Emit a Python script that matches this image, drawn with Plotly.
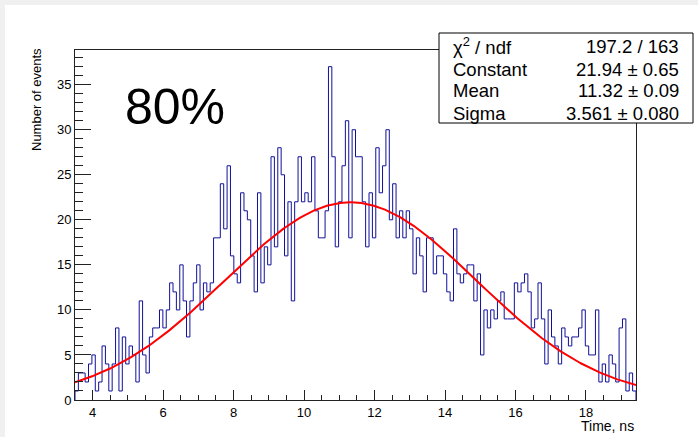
import numpy as np
import plotly.graph_objects as go

# ---------------- data ----------------
x_min = 3.5
x_max = 19.42
counts = [
    1, 3, 3, 2, 4, 5, 1, 2, 6, 4, 1, 4, 8, 1, 7, 4, 6, 5, 2, 11, 5, 3, 7, 8, 8, 10, 8, 10,
    13, 12, 10, 15, 11, 7, 11, 13, 15, 10, 13, 12, 13, 18, 18, 24, 19, 26, 16, 14, 13, 23, 21, 20, 16, 12, 23,
    13, 17, 15, 27, 17, 28, 25, 16, 22, 11, 22, 27, 22, 23, 22, 27, 21, 18, 18, 21, 37, 27, 17, 22, 26, 31, 18, 30, 27,
    27, 22, 17, 23, 18, 28, 23, 26, 30, 20, 24, 18, 21, 18, 21, 19, 14, 18, 16, 12, 18, 18, 14, 16, 16, 14, 12, 11, 19,
    14, 13, 14, 15, 15, 11, 14, 5, 10, 8, 10, 9, 11, 12, 9, 9, 9, 13, 12, 13, 14, 12, 8, 9, 13, 9, 4, 10,
    7, 6, 4, 8, 7, 6, 7, 7, 8, 10, 6, 5, 5, 10, 2, 4, 2, 5, 4, 2, 8, 9, 1, 3, 1,
]
fit_constant = 21.94
fit_mean = 11.32
fit_sigma = 3.561
stat_labels = ["χ<sup>2</sup> / ndf", "Constant", "Mean", "Sigma"]
stat_values = ["197.2 / 163", "21.94 ± 0.65", "11.32 ± 0.09", "3.561 ± 0.080"]
big_label = "80%"
x_title = "Time, ns"
y_title = "Number of events"

# ---------------- build ----------------
n = len(counts)
edges = np.linspace(x_min, x_max, n + 1)
hx = [edges[0]] + list(edges) + [edges[-1]]
hy = [0] + list(counts) + [counts[-1], 0]

fx = np.linspace(x_min, x_max, 600)
fy = fit_constant * np.exp(-0.5 * ((fx - fit_mean) / fit_sigma) ** 2)

W, H = 698, 437
L, R, T, B = 75, 62, 50, 37
pw = W - L - R
ph = H - T - B


def px(p):
    return (p - L) / pw


def py(p):
    return (H - B - p) / ph


FONT = "Liberation Sans, Arial, Helvetica, sans-serif"

fig = go.Figure()
fig.add_trace(go.Scatter(x=hx, y=hy, mode="lines", line_shape="hv",
                         line=dict(color="#10109c", width=1), hoverinfo="skip"))
fig.add_trace(go.Scatter(x=fx, y=fy, mode="lines",
                         line=dict(color="#ff0000", width=2), hoverinfo="skip"))

shapes = [
    dict(type="rect", xref="paper", yref="paper", x0=px(5), x1=px(W + 5), y0=py(H + 5), y1=py(5),
         fillcolor="white", line=dict(width=0), layer="below"),
    dict(type="rect", xref="paper", yref="paper", x0=px(439), x1=px(693), y0=py(123), y1=py(33),
         fillcolor="white", line=dict(color="black", width=1), layer="above"),
]

annotations = []
row_y = [46, 69, 91, 113]
for lab, val, yy in zip(stat_labels, stat_values, row_y):
    annotations.append(dict(x=px(451), y=py(yy), xref="paper", yref="paper", text=lab,
                            showarrow=False, xanchor="left", yanchor="middle",
                            font=dict(family=FONT, size=18.5, color="black")))
    annotations.append(dict(x=px(681), y=py(yy), xref="paper", yref="paper", text=val,
                            showarrow=False, xanchor="right", yanchor="middle",
                            font=dict(family=FONT, size=18.5, color="black")))
annotations.append(dict(x=px(175), y=py(107), xref="paper", yref="paper", text=big_label,
                        showarrow=False, xanchor="center", yanchor="middle",
                        font=dict(family=FONT, size=50, color="black")))
annotations.append(dict(x=px(636), y=py(426), xref="paper", yref="paper", text=x_title,
                        showarrow=False, xanchor="right", yanchor="middle",
                        font=dict(family=FONT, size=14, color="black")))
annotations.append(dict(x=px(36), y=py(100), xref="paper", yref="paper", text=y_title,
                        showarrow=False, xanchor="center", yanchor="middle", textangle=-90,
                        font=dict(family=FONT, size=13, color="black")))

fig.update_layout(
    width=W, height=H,
    margin=dict(l=L, r=R, t=T, b=B, pad=0),
    paper_bgcolor="#f0f0f0", plot_bgcolor="white",
    showlegend=False,
    shapes=shapes, annotations=annotations,
    font=dict(family=FONT, size=13, color="black"),
    xaxis=dict(range=[x_min, x_max], tick0=4, dtick=2, ticks="inside", ticklen=10,
               tickcolor="#222", showline=True, linecolor="#222", linewidth=1, mirror=True,
               showgrid=False, zeroline=False, tickfont=dict(size=13, family=FONT),
               ticklabelstandoff=0,
               minor=dict(dtick=0.5, ticks="inside", ticklen=5, tickcolor="#222", showgrid=False)),
    yaxis=dict(range=[0, 38.85], tick0=0, dtick=5, ticks="inside", ticklen=16,
               tickcolor="#222", showline=True, linecolor="#222", linewidth=1, mirror=True,
               showgrid=False, zeroline=False, tickfont=dict(size=13, family=FONT),
               minor=dict(dtick=1, ticks="inside", ticklen=8, tickcolor="#222", showgrid=False)),
)

fig.write_html("out.html")
